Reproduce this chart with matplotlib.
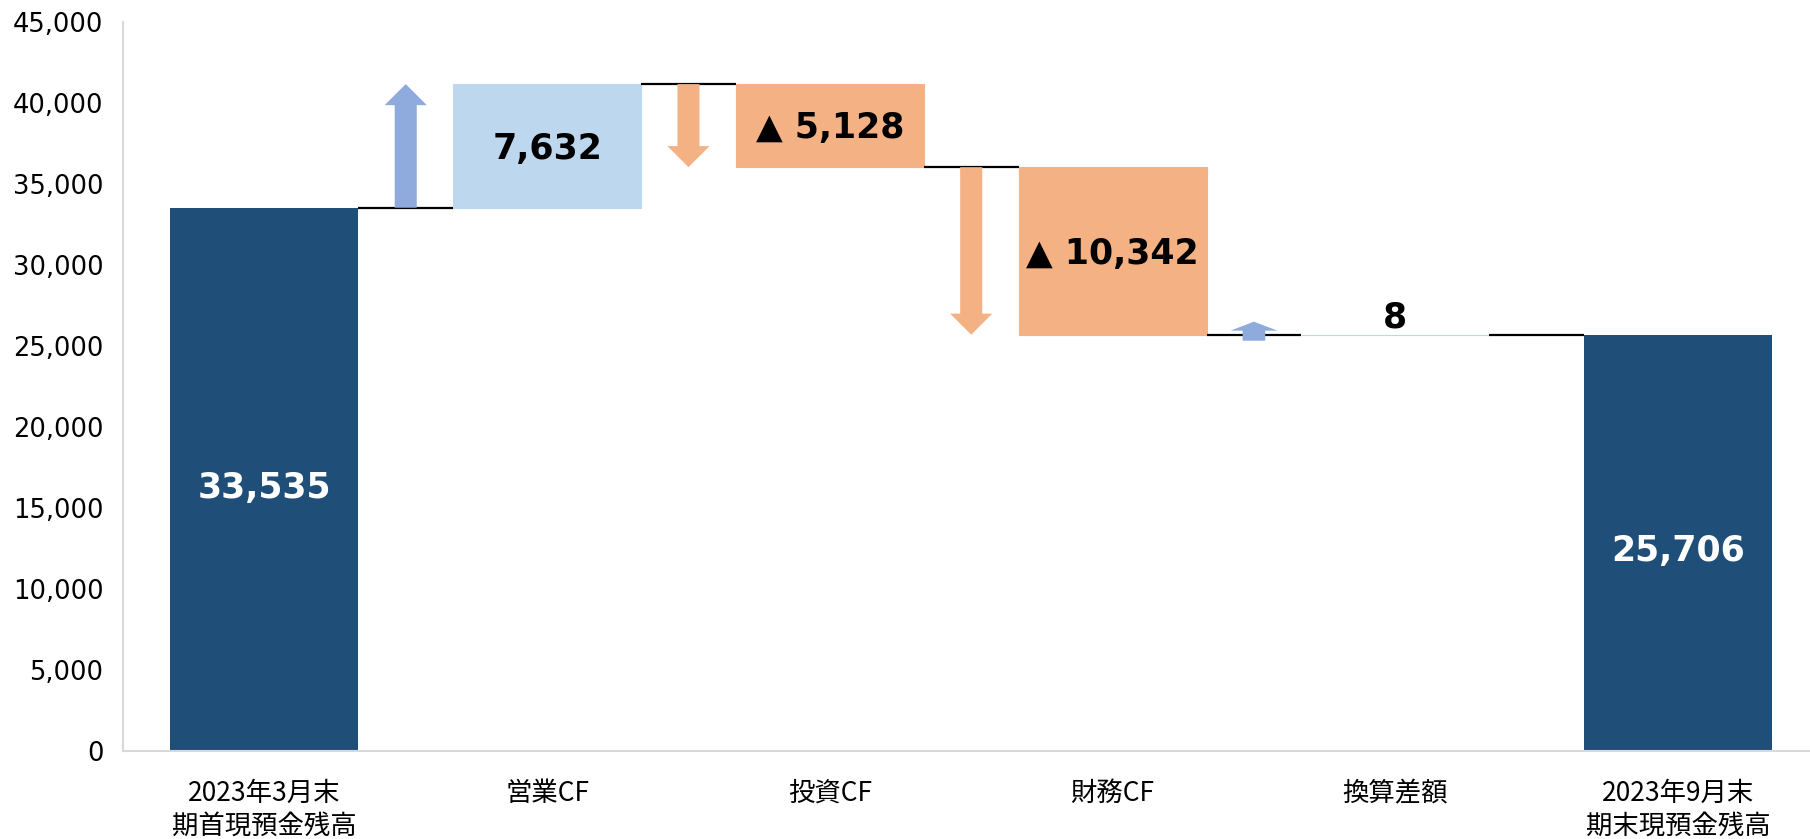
import numpy as np
import matplotlib.pyplot as plt
from matplotlib.patches import FancyArrow
from matplotlib.ticker import FuncFormatter

plt.rcParams['font.family'] = ['DejaVu Sans']

# data (百万円)
categories = ['2023年3月末\n期首現預金残高', '営業CF', '投資CF', '財務CF', '換算差額',
              '2023年9月末\n期末現預金残高']
opening = 33535
changes = [7632, -5128, -10342, 8]
closing = 25706

dark_blue = '#1F4E79'
light_blue = '#BDD7EE'
orange = '#F4B183'
arrow_blue = '#8FAADC'

# running totals before / after each change
levels = opening + np.cumsum([0] + changes)
bottoms = np.minimum(levels[:-1], levels[1:])

fig = plt.figure(figsize=(18.1, 8.39), dpi=100)
ax = fig.add_axes([123 / 1810, 1 - 751 / 839, 1 - 123 / 1810, (751 - 22) / 839])

x = np.arange(len(categories))
w = 0.665

# start / end totals
ax.bar([x[0], x[-1]], [opening, closing], width=w, color=dark_blue, zorder=2)

# change bars
bar_colors = [light_blue if c > 0 else orange for c in changes]
ax.bar(x[1:-1], np.abs(changes), bottom=bottoms, width=w, color=bar_colors,
       edgecolor=bar_colors, linewidth=0.8, zorder=2)

# connector lines in the gaps
for i in range(1, len(categories)):
    lvl = levels[i - 1]
    ax.plot([i - 1 + w / 2, i - w / 2], [lvl, lvl], color='black', lw=1.6,
            solid_capstyle='butt', zorder=3)

# arrows in the gaps
head_len = 1300
for k, d in enumerate(changes):
    xg = k + 0.5
    base = levels[k]
    col = arrow_blue if d > 0 else orange
    if abs(d) > head_len:
        arr = FancyArrow(xg, base, 0, d, width=0.078, head_width=0.149,
                         head_length=head_len, length_includes_head=True,
                         color=col, lw=0, zorder=4)
    else:
        # too small to show: draw a short stub arrow on the line
        arr = FancyArrow(xg, base - 370, 0, 1175 * np.sign(d), width=0.08,
                         head_width=0.166, head_length=555,
                         length_includes_head=True, color=col, lw=0, zorder=4)
    ax.add_patch(arr)


def fmt(v):
    return ('▲ ' if v < 0 else '') + f'{abs(v):,}'


lbl = dict(fontsize=25, fontweight='bold', ha='center', zorder=5,
           textcoords='offset points')

# value labels
ax.annotate(fmt(opening), (x[0], opening / 2), xytext=(0, -6), va='center',
            color='white', **lbl)
ax.annotate(fmt(closing), (x[-1], closing / 2), xytext=(0, -6), va='center',
            color='white', **lbl)
for k, d in enumerate(changes):
    if abs(d) > 2000:
        ax.annotate(fmt(d), (x[k + 1], bottoms[k] + abs(d) / 2), xytext=(0, -2),
                    va='center', color='black', **lbl)
    else:
        ax.annotate(fmt(d), (x[k + 1], bottoms[k] + abs(d)), xytext=(0, 0),
                    va='bottom', color='black', **lbl)

ax.set_xlim(-0.5, (1810 - 264) / 282.8)
ax.set_ylim(0, 45000)
ax.set_yticks(np.arange(0, 45001, 5000))
ax.yaxis.set_major_formatter(FuncFormatter(lambda v, p: f'{v:,.0f}'))
ax.set_xticks(x)
ax.set_xticklabels(categories, family=['Noto Sans CJK JP', 'DejaVu Sans'],
                   fontsize=19, linespacing=1.24)
ax.tick_params(axis='y', length=0, pad=14, labelsize=18.5)
ax.tick_params(axis='x', length=0, pad=21)

for s in ['top', 'right']:
    ax.spines[s].set_visible(False)
for s in ['left', 'bottom']:
    ax.spines[s].set_color('#D9D9D9')
    ax.spines[s].set_linewidth(1.5)

fig.savefig('out.png', dpi=100)
